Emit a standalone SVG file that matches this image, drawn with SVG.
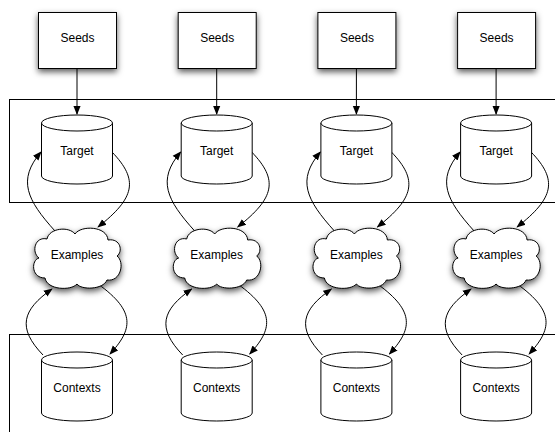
<svg xmlns="http://www.w3.org/2000/svg" width="555" height="432" viewBox="0 0 555 432">
<style>
.frame{fill:none;stroke:#000;stroke-width:1}
.box{fill:#fff;stroke:#000;stroke-width:1}
.lbl{font-family:"Liberation Sans",Arial,sans-serif;font-size:12px;fill:#000;text-anchor:middle}
.edge{fill:none;stroke:#000;stroke-width:1;marker-end:url(#arr)}
</style>
<defs>
<marker id="arr" viewBox="0 0 10 10" refX="9" refY="5" markerWidth="9" markerHeight="9" markerUnits="userSpaceOnUse" orient="auto">
<path d="M0,1 L10,5 L0,9 Z" fill="#000"/>
</marker>
<filter id="sh" x="-30%" y="-30%" width="160%" height="170%">
<feDropShadow dx="0" dy="3" stdDeviation="3" flood-color="#000" flood-opacity="0.65"/>
</filter>
<path id="cloud" d="M-30,-19 C-28,-30 -8,-32 -2,-24 C4,-33 30,-32 31,-18 C44,-20 46,-6 40,-2 C48,4 44,24 30,22 C26,32 4,32 0,26 C-6,33 -30,32 -32,20 C-46,20 -46,2 -38,0 C-46,-6 -42,-22 -30,-19 Z"/>
<g id="cyl">
<path d="M-35.5,0 V53 A35.5,8 0 0,0 35.5,53 V0" class="box"/>
<ellipse cx="0" cy="0" rx="35.5" ry="8" class="box"/>
</g>
</defs>

<rect class="frame" x="9.5" y="99.5" width="560" height="103"/>
<rect class="frame" x="9.5" y="334.5" width="560" height="110"/>

<g id="connectors">
<g transform="translate(77,0)">
<path class="edge" d="M0,68 V114"/>
<path class="edge" d="M-22,231 C-50,200 -60,180 -36,152"/>
<path class="edge" d="M35,152 C62,180 58,198 21,227"/>
<path class="edge" d="M-34,355 C-60,328 -55,310 -25,289"/>
<path class="edge" d="M21,284 C60,312 55,330 33,354"/>
</g>
<g transform="translate(216.7,0)">
<path class="edge" d="M0,68 V114"/>
<path class="edge" d="M-22,231 C-50,200 -60,180 -36,152"/>
<path class="edge" d="M35,152 C62,180 58,198 21,227"/>
<path class="edge" d="M-34,355 C-60,328 -55,310 -25,289"/>
<path class="edge" d="M21,284 C60,312 55,330 33,354"/>
</g>
<g transform="translate(356.4,0)">
<path class="edge" d="M0,68 V114"/>
<path class="edge" d="M-22,231 C-50,200 -60,180 -36,152"/>
<path class="edge" d="M35,152 C62,180 58,198 21,227"/>
<path class="edge" d="M-34,355 C-60,328 -55,310 -25,289"/>
<path class="edge" d="M21,284 C60,312 55,330 33,354"/>
</g>
<g transform="translate(496.1,0)">
<path class="edge" d="M0,68 V114"/>
<path class="edge" d="M-22,231 C-50,200 -60,180 -36,152"/>
<path class="edge" d="M35,152 C62,180 58,198 21,227"/>
<path class="edge" d="M-34,355 C-60,328 -55,310 -25,289"/>
<path class="edge" d="M21,284 C60,312 55,330 33,354"/>
</g>
</g>

<g id="seeds1"><rect class="box" x="38.5" y="12.5" width="78" height="56" filter="url(#sh)"/><text class="lbl" x="77.5" y="42">Seeds</text></g>
<g id="seeds2"><rect class="box" x="178.2" y="12.5" width="78" height="56" filter="url(#sh)"/><text class="lbl" x="217.2" y="42">Seeds</text></g>
<g id="seeds3"><rect class="box" x="317.9" y="12.5" width="78" height="56" filter="url(#sh)"/><text class="lbl" x="356.9" y="42">Seeds</text></g>
<g id="seeds4"><rect class="box" x="457.6" y="12.5" width="78" height="56" filter="url(#sh)"/><text class="lbl" x="496.6" y="42">Seeds</text></g>

<g id="target1"><use href="#cyl" x="77" y="123"/><text class="lbl" x="77" y="155">Target</text></g>
<g id="target2"><use href="#cyl" x="216.7" y="123"/><text class="lbl" x="216.7" y="155">Target</text></g>
<g id="target3"><use href="#cyl" x="356.4" y="123"/><text class="lbl" x="356.4" y="155">Target</text></g>
<g id="target4"><use href="#cyl" x="496.1" y="123"/><text class="lbl" x="496.1" y="155">Target</text></g>

<g id="examples1"><use href="#cloud" x="77" y="258" class="box" filter="url(#sh)"/><text class="lbl" x="77" y="259">Examples</text></g>
<g id="examples2"><use href="#cloud" x="216.7" y="258" class="box" filter="url(#sh)"/><text class="lbl" x="216.7" y="259">Examples</text></g>
<g id="examples3"><use href="#cloud" x="356.4" y="258" class="box" filter="url(#sh)"/><text class="lbl" x="356.4" y="259">Examples</text></g>
<g id="examples4"><use href="#cloud" x="496.1" y="258" class="box" filter="url(#sh)"/><text class="lbl" x="496.1" y="259">Examples</text></g>

<g id="contexts1"><use href="#cyl" x="77" y="360"/><text class="lbl" x="77" y="392">Contexts</text></g>
<g id="contexts2"><use href="#cyl" x="216.7" y="360"/><text class="lbl" x="216.7" y="392">Contexts</text></g>
<g id="contexts3"><use href="#cyl" x="356.4" y="360"/><text class="lbl" x="356.4" y="392">Contexts</text></g>
<g id="contexts4"><use href="#cyl" x="496.1" y="360"/><text class="lbl" x="496.1" y="392">Contexts</text></g>
</svg>
